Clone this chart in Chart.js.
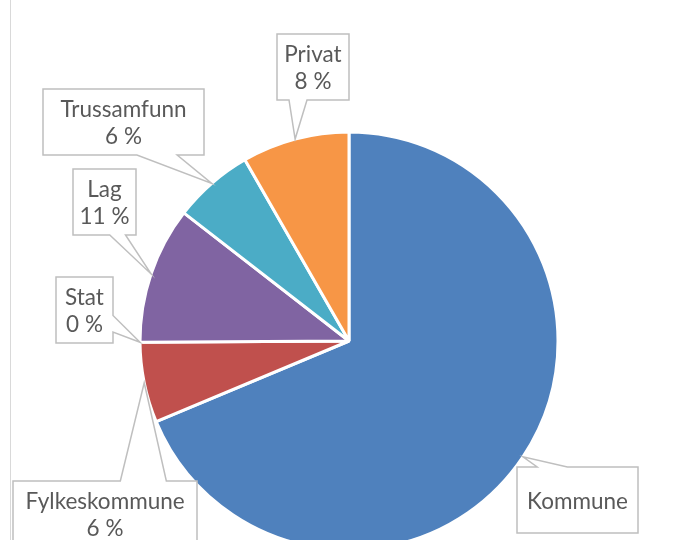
<!DOCTYPE html>
<html>
<head>
<meta charset="utf-8">
<script src="https://cdn.jsdelivr.net/npm/chart.js@4.4.0/dist/chart.umd.min.js"></script>
<style>
html, body { margin: 0; padding: 0; background: #fff; }
#wrap { position: relative; width: 678px; height: 540px; overflow: hidden; }
#myChart { position: absolute; left: 0; top: 0; }
</style>
</head>
<body>
<div id="wrap"><canvas id="myChart" width="678" height="560"></canvas></div>
<script>
const categories = ['Kommune', 'Fylkeskommune', 'Stat', 'Lag', 'Trussamfunn', 'Privat'];
const shares = [68.7, 6.2, 0, 10.6, 6.2, 8.3];
const sliceColors = ['#4f81bd', '#c0504d', '#9bbb59', '#8064a2', '#4bacc6', '#f79646'];
const showPercent = [false, true, true, true, true, true];

// callout boxes, offset of box centre from pie centre + box width
const boxLayout = [
    {dx: 228.5, dy: 159, w: 121},
    {dx: -244, dy: 173, w: 184},
    {dx: -264.5, dy: -31, w: 57},
    {dx: -244.5, dy: -139, w: 63},
    {dx: -225.5, dy: -219, w: 161},
    {dx: -36, dy: -274, w: 72}
];
const boxH = 66;

function calloutPath(ctx, x0, y0, w, h, tx, ty) {
    const x1 = x0, x2 = x0 + w, y1 = y0, y2 = y0 + h;
    const rx = (tx - (x0 + w / 2)) / w;
    const ry = (ty - (y0 + h / 2)) / h;
    let side = Math.abs(rx) > Math.abs(ry) ? (rx < 0 ? 'left' : 'right') : (ry < 0 ? 'top' : 'bottom');
    const xa = rx < 0 ? x0 + w / 6 : x0 + 7 * w / 12;
    const xb = rx < 0 ? x0 + 5 * w / 12 : x0 + 5 * w / 6;
    const ya = ry < 0 ? y0 + h / 6 : y0 + 7 * h / 12;
    const yb = ry < 0 ? y0 + 5 * h / 12 : y0 + 5 * h / 6;
    ctx.beginPath();
    ctx.moveTo(x1, y1);
    if (side == 'top') { ctx.lineTo(xa, y1); ctx.lineTo(tx, ty); ctx.lineTo(xb, y1); }
    ctx.lineTo(x2, y1);
    if (side == 'right') { ctx.lineTo(x2, ya); ctx.lineTo(tx, ty); ctx.lineTo(x2, yb); }
    ctx.lineTo(x2, y2);
    if (side == 'bottom') { ctx.lineTo(xb, y2); ctx.lineTo(tx, ty); ctx.lineTo(xa, y2); }
    ctx.lineTo(x1, y2);
    if (side == 'left') { ctx.lineTo(x1, yb); ctx.lineTo(tx, ty); ctx.lineTo(x1, ya); }
    ctx.closePath();
}

const calloutPlugin = {
    id: 'callouts',
    beforeDraw(chart) {
        const ctx = chart.ctx;
        ctx.save();
        ctx.strokeStyle = '#d9d9d9';
        ctx.lineWidth = 1;
        ctx.beginPath();
        ctx.moveTo(10.5, 0);
        ctx.lineTo(10.5, 560);
        ctx.stroke();
        ctx.restore();
    },
    afterDatasetsDraw(chart) {
        const ctx = chart.ctx;
        const meta = chart.getDatasetMeta(0);
        const data = chart.data.datasets[0].data;
        const total = data.reduce((a, b) => a + b, 0);
        ctx.save();
        meta.data.forEach((arc, i) => {
            const p = arc.getProps(['x', 'y', 'startAngle', 'endAngle', 'outerRadius'], true);
            const mid = (p.startAngle + p.endAngle) / 2;
            const tx = p.x + Math.cos(mid) * p.outerRadius;
            const ty = p.y + Math.sin(mid) * p.outerRadius;
            const b = boxLayout[i];
            const x0 = p.x + b.dx - b.w / 2;
            const y0 = p.y + b.dy - boxH / 2;
            calloutPath(ctx, x0, y0, b.w, boxH, tx, ty);
            ctx.fillStyle = '#ffffff';
            ctx.fill();
            ctx.strokeStyle = '#bfbfbf';
            ctx.lineWidth = 1.5;
            ctx.stroke();

            ctx.fillStyle = '#595959';
            ctx.font = '22.5px Lato';
            ctx.textAlign = 'center';
            ctx.textBaseline = 'middle';
            const cx = x0 + b.w / 2;
            const cy = y0 + boxH / 2;
            if (showPercent[i]) {
                const pct = Math.round(data[i] / total * 100) + ' %';
                ctx.fillText(chart.data.labels[i], cx, cy - 12);
                ctx.fillText(pct, cx, cy + 15);
            } else {
                ctx.fillText(chart.data.labels[i], cx, cy + 1.5);
            }
        });
        ctx.restore();
    }
};

const ctx = document.getElementById('myChart');
const myChart = new Chart(ctx, {
    type: 'pie',
    data: {
        labels: categories,
        datasets: [{
            data: shares,
            backgroundColor: sliceColors,
            borderColor: '#ffffff',
            borderWidth: 3,
            radius: 209
        }]
    },
    options: {
        responsive: false,
        animation: false,
        devicePixelRatio: 1,
        layout: {
            padding: {left: 142, right: 122, top: 134, bottom: 12}
        },
        plugins: {
            legend: { display: false },
            tooltip: { enabled: false }
        }
    },
    plugins: [calloutPlugin]
});
</script>
</body>
</html>
